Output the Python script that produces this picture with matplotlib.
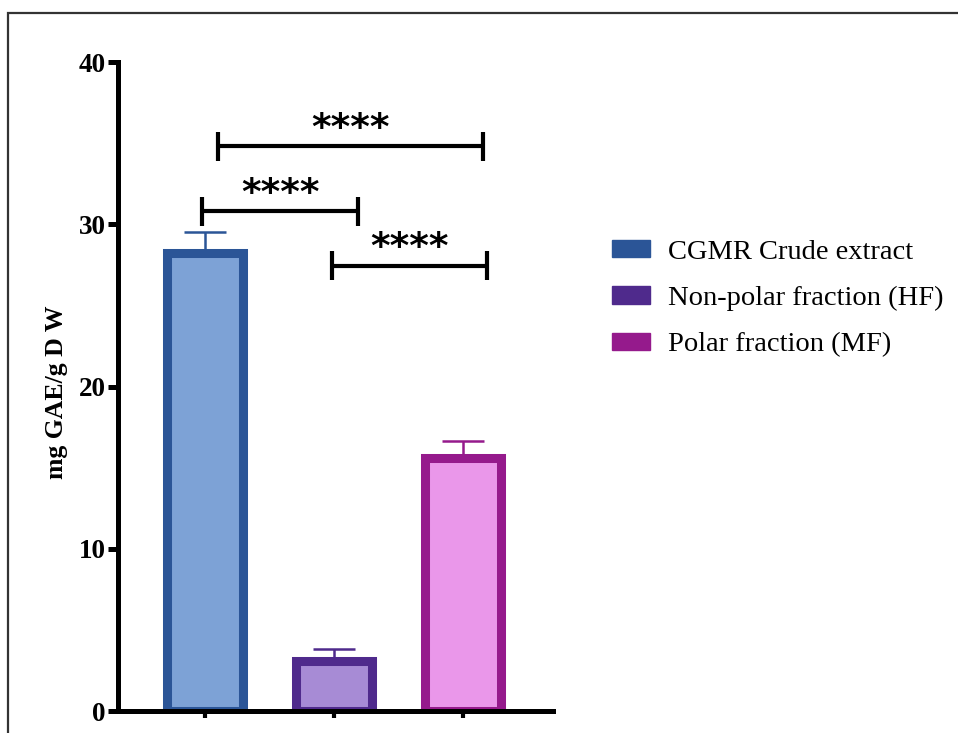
import matplotlib
matplotlib.use("Agg")
import matplotlib.pyplot as plt
from matplotlib.patches import Patch, Rectangle

plt.rcParams['font.family'] = ['Liberation Serif', 'DejaVu Serif']

# Total phenolic content per sample
groups = ["CGMR Crude extract", "Non-polar fraction (HF)", "Polar fraction (MF)"]
means = [28.2, 3.1, 15.6]
errors = [1.3, 0.7, 1.05]
edge_colors = ["#2B5597", "#4F2A8C", "#951A8C"]
fill_colors = ["#7DA2D6", "#A78BD5", "#EA97EA"]

# significance brackets: (x start, x end, bracket height, label)
brackets = [
    (0.10, 2.16, 34.8, "****"),
    (-0.02, 1.19, 30.8, "****"),
    (0.985, 2.19, 27.45, "****"),
]

fig = plt.figure(figsize=(9.58, 7.33), dpi=100)
ax = fig.add_axes([0.1232, 0.030, 0.454, 0.8854])

x = range(len(groups))
for i in x:
    ax.bar(i, means[i], width=0.59, color=fill_colors[i], edgecolor=edge_colors[i],
           linewidth=6.5, zorder=2)
    ax.errorbar(i, means[i], yerr=[[0], [errors[i]]], fmt='none', ecolor=edge_colors[i],
                elinewidth=1.8, capsize=15, capthick=1.8, zorder=1)

for x0, x1, h, lab in brackets:
    ax.plot([x0, x1], [h, h], color='black', lw=3, solid_capstyle='butt', clip_on=False)
    for xe in (x0, x1):
        ax.plot([xe, xe], [h - 0.9, h + 0.9], color='black', lw=3, solid_capstyle='butt',
                clip_on=False)
    ax.text((x0 + x1) / 2, h + 0.45, lab, ha='center', va='baseline', fontsize=27,
            fontweight='bold', family='DejaVu Sans')

ax.set_xlim(-0.674, 2.70)
ax.set_ylim(0, 40)
ax.set_yticks([0, 10, 20, 30, 40])
ax.set_xticks(list(x))
ax.set_xticklabels([])
for s in ('top', 'right'):
    ax.spines[s].set_visible(False)
for s in ('left', 'bottom'):
    ax.spines[s].set_linewidth(3.6)
ax.tick_params(axis='y', length=7, width=3.6, labelsize=19.5, pad=2)
ax.tick_params(axis='x', length=5, width=3, pad=2)
for t in ax.get_yticklabels():
    t.set_fontweight('bold')
ax.set_ylabel("mg GAE/g D W", fontsize=18.5, fontweight='bold')
ax.yaxis.set_label_coords(-0.115, 0.4915)

handles = [Patch(facecolor=c, edgecolor=c) for c in edge_colors]
fig.legend(handles, groups, loc='upper left', bbox_to_anchor=(0.639, 0.673),
           frameon=False, fontsize=20.5, handlelength=1.33, handleheight=0.58,
           handletextpad=0.62, labelspacing=0.75, borderaxespad=0, borderpad=0)

# outer frame
fig.patches.append(Rectangle((8 / 958, -0.1), 1.2, 1.1 - 13 / 733, transform=fig.transFigure,
                             fill=False, edgecolor='#333333', lw=1.6))

fig.savefig("out.png", dpi=100)
